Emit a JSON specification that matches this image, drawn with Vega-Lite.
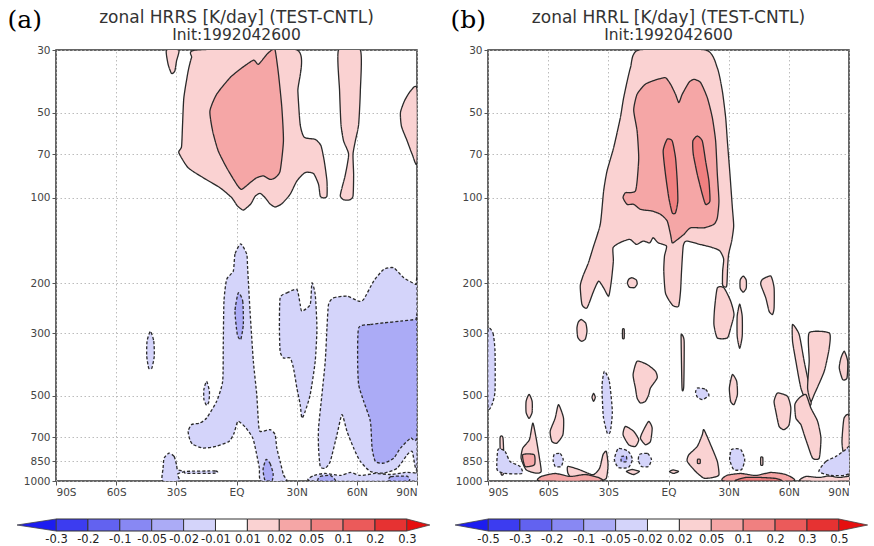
{
"$schema":"https://vega.github.io/schema/vega-lite/v6.json",
"background":"white",
"padding":{"left":6,"top":6,"right":4,"bottom":4},
"config":{
 "view":{"stroke":"#333","strokeWidth":1.5},
 "axis":{"labelFont":"DejaVu Sans","labelFontSize":10.5,"labelColor":"#444","tickColor":"#555","tickSize":4,"domain":false,"gridColor":"#b4b4b4","gridDash":[1.5,2.5],"gridWidth":0.9,"labelPadding":2},
 "title":{"anchor":"middle","font":"DejaVu Sans","fontSize":17,"fontWeight":"normal","color":"#333","subtitleFont":"DejaVu Sans","subtitleFontSize":15.5,"subtitleColor":"#333","subtitlePadding":1,"offset":-37}
},
"datasets":{
"pa":[
{"s":"A1","v":0.015,"lat":-34.9,"p":30},{"s":"A1","v":0.015,"lat":-34.1,"p":33.7},{"s":"A1","v":0.015,"lat":-32.4,"p":36.3},{"s":"A1","v":0.015,"lat":-30.75,"p":35.6},{"s":"A1","v":0.015,"lat":-29.9,"p":32.8},{"s":"A1","v":0.015,"lat":-28.75,"p":30},
{"s":"A2","v":0.015,"lat":-19.9,"p":30},{"s":"A2","v":0.015,"lat":30.1,"p":30},{"s":"A2","v":0.015,"lat":30.6,"p":41.9},{"s":"A2","v":0.015,"lat":31.75,"p":55},{"s":"A2","v":0.015,"lat":33.75,"p":61},{"s":"A2","v":0.015,"lat":39.25,"p":62.1},{"s":"A2","v":0.015,"lat":42.1,"p":65.3},{"s":"A2","v":0.015,"lat":43.75,"p":74},{"s":"A2","v":0.015,"lat":45.1,"p":87.1},{"s":"A2","v":0.015,"lat":45.1,"p":98.4},{"s":"A2","v":0.015,"lat":43.4,"p":100},{"s":"A2","v":0.015,"lat":41.75,"p":98.4},{"s":"A2","v":0.015,"lat":40.9,"p":89.5},{"s":"A2","v":0.015,"lat":38.4,"p":82},{"s":"A2","v":0.015,"lat":34.25,"p":81.3},{"s":"A2","v":0.015,"lat":30.1,"p":87.1},{"s":"A2","v":0.015,"lat":26.75,"p":97},{"s":"A2","v":0.015,"lat":22.6,"p":104.8},{"s":"A2","v":0.015,"lat":19.25,"p":107.6},{"s":"A2","v":0.015,"lat":16.75,"p":105},{"s":"A2","v":0.015,"lat":14.25,"p":99.7},{"s":"A2","v":0.015,"lat":11.75,"p":96.3},{"s":"A2","v":0.015,"lat":9.25,"p":98.7},{"s":"A2","v":0.015,"lat":7.1,"p":105},{"s":"A2","v":0.015,"lat":3.4,"p":110.3},{"s":"A2","v":0.015,"lat":0.4,"p":106.5},{"s":"A2","v":0.015,"lat":-2.4,"p":99.7},{"s":"A2","v":0.015,"lat":-8.25,"p":92},{"s":"A2","v":0.015,"lat":-16.6,"p":84.8},{"s":"A2","v":0.015,"lat":-24.1,"p":78.2},{"s":"A2","v":0.015,"lat":-28.75,"p":69.2},{"s":"A2","v":0.015,"lat":-27.4,"p":65.8},{"s":"A2","v":0.015,"lat":-26.9,"p":55},{"s":"A2","v":0.015,"lat":-26.25,"p":44.2},{"s":"A2","v":0.015,"lat":-24.1,"p":35.6},{"s":"A2","v":0.015,"lat":-22.4,"p":31.9},
{"s":"A3","v":0.015,"lat":50.9,"p":30},{"s":"A3","v":0.015,"lat":51.4,"p":41.9},{"s":"A3","v":0.015,"lat":52.1,"p":55},{"s":"A3","v":0.015,"lat":53.4,"p":62.9},{"s":"A3","v":0.015,"lat":55.9,"p":70.1},{"s":"A3","v":0.015,"lat":54.25,"p":82.9},{"s":"A3","v":0.015,"lat":52.6,"p":92},{"s":"A3","v":0.015,"lat":51.75,"p":98.4},{"s":"A3","v":0.015,"lat":53.4,"p":101.5},{"s":"A3","v":0.015,"lat":56.4,"p":101.5},{"s":"A3","v":0.015,"lat":58.1,"p":98.4},{"s":"A3","v":0.015,"lat":58.4,"p":82.9},{"s":"A3","v":0.015,"lat":58.1,"p":70.1},{"s":"A3","v":0.015,"lat":59.25,"p":62.9},{"s":"A3","v":0.015,"lat":60.9,"p":55},{"s":"A3","v":0.015,"lat":61.75,"p":41.9},{"s":"A3","v":0.015,"lat":61.75,"p":30},
{"s":"A4","v":0.015,"lat":90,"p":41.3},{"s":"A4","v":0.015,"lat":86.75,"p":41.9},{"s":"A4","v":0.015,"lat":83.75,"p":45.4},{"s":"A4","v":0.015,"lat":81.75,"p":49.9},{"s":"A4","v":0.015,"lat":82.25,"p":55.8},{"s":"A4","v":0.015,"lat":85.1,"p":62.9},{"s":"A4","v":0.015,"lat":87.6,"p":70.1},{"s":"A4","v":0.015,"lat":90,"p":75},
{"s":"A5","v":0.015,"lat":65,"p":1000},{"s":"A5","v":0.015,"lat":65.5,"p":962},{"s":"A5","v":0.015,"lat":69.5,"p":958},{"s":"A5","v":0.015,"lat":70,"p":1000},
{"s":"A6","v":0.035,"lat":-13.25,"p":49.3},{"s":"A6","v":0.035,"lat":-9.9,"p":43},{"s":"A6","v":0.035,"lat":-3.25,"p":37.6},{"s":"A6","v":0.035,"lat":1.75,"p":35.1},{"s":"A6","v":0.035,"lat":8.4,"p":32.6},{"s":"A6","v":0.035,"lat":10.9,"p":33.7},{"s":"A6","v":0.035,"lat":15.1,"p":31.1},{"s":"A6","v":0.035,"lat":17.6,"p":30},{"s":"A6","v":0.035,"lat":19.25,"p":30},{"s":"A6","v":0.035,"lat":20.9,"p":36.3},{"s":"A6","v":0.035,"lat":22.6,"p":47.9},{"s":"A6","v":0.035,"lat":23.4,"p":62.9},{"s":"A6","v":0.035,"lat":21.75,"p":80.3},{"s":"A6","v":0.035,"lat":19.25,"p":84.8},{"s":"A6","v":0.035,"lat":16.75,"p":86},{"s":"A6","v":0.035,"lat":13.4,"p":83.6},{"s":"A6","v":0.035,"lat":10.1,"p":84.8},{"s":"A6","v":0.035,"lat":6.75,"p":88.3},{"s":"A6","v":0.035,"lat":2.6,"p":93.2},{"s":"A6","v":0.035,"lat":0.1,"p":89.5},{"s":"A6","v":0.035,"lat":-4.9,"p":78.2},{"s":"A6","v":0.035,"lat":-9.1,"p":68.2},{"s":"A6","v":0.035,"lat":-11.9,"p":58},
{"s":"B1","v":-0.015,"lat":2.1,"p":145.2},{"s":"B1","v":-0.015,"lat":-0.75,"p":157.8},{"s":"B1","v":-0.015,"lat":-1.6,"p":181.3},{"s":"B1","v":-0.015,"lat":-4.9,"p":193.9},{"s":"B1","v":-0.015,"lat":-6.25,"p":231.5},{"s":"B1","v":-0.015,"lat":-6.6,"p":328.7},{"s":"B1","v":-0.015,"lat":-6.9,"p":444.3},{"s":"B1","v":-0.015,"lat":-9.9,"p":522.9},{"s":"B1","v":-0.015,"lat":-14.9,"p":599},{"s":"B1","v":-0.015,"lat":-18.25,"p":624},{"s":"B1","v":-0.015,"lat":-22.4,"p":632},{"s":"B1","v":-0.015,"lat":-24.1,"p":667.8},{"s":"B1","v":-0.015,"lat":-23.25,"p":714.5},{"s":"B1","v":-0.015,"lat":-21.75,"p":742.5},{"s":"B1","v":-0.015,"lat":-16.75,"p":765},{"s":"B1","v":-0.015,"lat":-10.25,"p":754.7},{"s":"B1","v":-0.015,"lat":-3.75,"p":724.6},{"s":"B1","v":-0.015,"lat":-1.25,"p":678.8},{"s":"B1","v":-0.015,"lat":0.75,"p":615.5},{"s":"B1","v":-0.015,"lat":4.75,"p":650},{"s":"B1","v":-0.015,"lat":8.1,"p":705.3},{"s":"B1","v":-0.015,"lat":9.75,"p":786.1},{"s":"B1","v":-0.015,"lat":11.4,"p":900.8},{"s":"B1","v":-0.015,"lat":12.25,"p":1000},{"s":"B1","v":-0.015,"lat":24.75,"p":1000},{"s":"B1","v":-0.015,"lat":23.4,"p":950.5},{"s":"B1","v":-0.015,"lat":21.75,"p":852.9},{"s":"B1","v":-0.015,"lat":20.1,"p":765},{"s":"B1","v":-0.015,"lat":19.25,"p":686},{"s":"B1","v":-0.015,"lat":16.75,"p":658.7},{"s":"B1","v":-0.015,"lat":11.75,"p":667.8},{"s":"B1","v":-0.015,"lat":10.9,"p":615.5},{"s":"B1","v":-0.015,"lat":10.1,"p":495},{"s":"B1","v":-0.015,"lat":8.4,"p":377.5},{"s":"B1","v":-0.015,"lat":6.75,"p":251.2},{"s":"B1","v":-0.015,"lat":5.9,"p":196.7},{"s":"B1","v":-0.015,"lat":5.5,"p":174.1},{"s":"B1","v":-0.015,"lat":5.1,"p":157.8},
{"s":"B2","v":-0.015,"lat":21.75,"p":225.4},{"s":"B2","v":-0.015,"lat":25.1,"p":216.4},{"s":"B2","v":-0.015,"lat":30.1,"p":210.5},{"s":"B2","v":-0.015,"lat":31.75,"p":237.8},{"s":"B2","v":-0.015,"lat":32.6,"p":251.2},{"s":"B2","v":-0.015,"lat":36.75,"p":237.8},{"s":"B2","v":-0.015,"lat":37.6,"p":199.5},{"s":"B2","v":-0.015,"lat":39.25,"p":219.2},{"s":"B2","v":-0.015,"lat":40.1,"p":287.8},{"s":"B2","v":-0.015,"lat":39.25,"p":377.5},{"s":"B2","v":-0.015,"lat":36.75,"p":495},{"s":"B2","v":-0.015,"lat":34.25,"p":567.4},{"s":"B2","v":-0.015,"lat":32.6,"p":599.3},{"s":"B2","v":-0.015,"lat":31.75,"p":537},{"s":"B2","v":-0.015,"lat":30.1,"p":469.3},{"s":"B2","v":-0.015,"lat":28.4,"p":398.7},{"s":"B2","v":-0.015,"lat":26.75,"p":367.5},{"s":"B2","v":-0.015,"lat":23.4,"p":367.5},{"s":"B2","v":-0.015,"lat":21.75,"p":347.9},{"s":"B2","v":-0.015,"lat":21.4,"p":287.8},
{"s":"B3","v":-0.015,"lat":45.9,"p":237.8},{"s":"B3","v":-0.015,"lat":48.4,"p":225.4},{"s":"B3","v":-0.015,"lat":55.1,"p":222.3},{"s":"B3","v":-0.015,"lat":60.9,"p":231.5},{"s":"B3","v":-0.015,"lat":63.4,"p":228.3},{"s":"B3","v":-0.015,"lat":68.4,"p":196.7},{"s":"B3","v":-0.015,"lat":73.4,"p":178.8},{"s":"B3","v":-0.015,"lat":78.4,"p":176.5},{"s":"B3","v":-0.015,"lat":83.4,"p":191.4},{"s":"B3","v":-0.015,"lat":89.25,"p":202},{"s":"B3","v":-0.015,"lat":90,"p":202},{"s":"B3","v":-0.015,"lat":90,"p":876},{"s":"B3","v":-0.015,"lat":87.6,"p":786.1},{"s":"B3","v":-0.015,"lat":85.1,"p":807.4},{"s":"B3","v":-0.015,"lat":80.1,"p":900.8},{"s":"B3","v":-0.015,"lat":73.4,"p":938.2},{"s":"B3","v":-0.015,"lat":66.75,"p":925.3},{"s":"B3","v":-0.015,"lat":61.75,"p":852.9},{"s":"B3","v":-0.015,"lat":58.4,"p":765},{"s":"B3","v":-0.015,"lat":55.1,"p":667.8},{"s":"B3","v":-0.015,"lat":52.6,"p":582.8},{"s":"B3","v":-0.015,"lat":50.1,"p":685.9},{"s":"B3","v":-0.015,"lat":46.75,"p":852.9},{"s":"B3","v":-0.015,"lat":44.25,"p":900.8},{"s":"B3","v":-0.015,"lat":41.75,"p":888.4},{"s":"B3","v":-0.015,"lat":40.9,"p":765},{"s":"B3","v":-0.015,"lat":40.9,"p":650.2},{"s":"B3","v":-0.015,"lat":42.6,"p":495},{"s":"B3","v":-0.015,"lat":44.25,"p":377.5},{"s":"B3","v":-0.015,"lat":45.1,"p":287.8},
{"s":"B4","v":-0.015,"lat":-42.9,"p":295.6},{"s":"B4","v":-0.015,"lat":-41.25,"p":320.7},{"s":"B4","v":-0.015,"lat":-41,"p":362.4},{"s":"B4","v":-0.015,"lat":-42.25,"p":399.7},{"s":"B4","v":-0.015,"lat":-43.75,"p":399.7},{"s":"B4","v":-0.015,"lat":-44.75,"p":362.4},{"s":"B4","v":-0.015,"lat":-44.6,"p":320.7},
{"s":"B5","v":-0.015,"lat":-14.9,"p":444.3},{"s":"B5","v":-0.015,"lat":-13.5,"p":482},{"s":"B5","v":-0.015,"lat":-13.75,"p":522.9},{"s":"B5","v":-0.015,"lat":-14.9,"p":540.2},{"s":"B5","v":-0.015,"lat":-16.25,"p":514.7},{"s":"B5","v":-0.015,"lat":-16.25,"p":474.4},
{"s":"B6","v":-0.015,"lat":-33.6,"p":797.2},{"s":"B6","v":-0.015,"lat":-31.1,"p":818.8},{"s":"B6","v":-0.015,"lat":-29.9,"p":876},{"s":"B6","v":-0.015,"lat":-29.4,"p":912.4},{"s":"B6","v":-0.015,"lat":-26.1,"p":925.3},{"s":"B6","v":-0.015,"lat":-29.4,"p":945.9},{"s":"B6","v":-0.015,"lat":-28.6,"p":1000},{"s":"B6","v":-0.015,"lat":-36.9,"p":1000},{"s":"B6","v":-0.015,"lat":-36.6,"p":900.8},{"s":"B6","v":-0.015,"lat":-36.1,"p":830.2},
{"s":"B7","v":-0.015,"lat":-25,"p":925},{"s":"B7","v":-0.015,"lat":-10.5,"p":922},{"s":"B7","v":-0.015,"lat":-10.5,"p":938},{"s":"B7","v":-0.015,"lat":-25,"p":940},
{"s":"B8","v":-0.015,"lat":37.75,"p":1000},{"s":"B8","v":-0.015,"lat":38.75,"p":956},{"s":"B8","v":-0.015,"lat":44.25,"p":940.6},{"s":"B8","v":-0.015,"lat":51.75,"p":956},{"s":"B8","v":-0.015,"lat":56.75,"p":932.9},{"s":"B8","v":-0.015,"lat":61.75,"p":956},{"s":"B8","v":-0.015,"lat":69.25,"p":940.6},{"s":"B8","v":-0.015,"lat":76.75,"p":948.6},{"s":"B8","v":-0.015,"lat":84.25,"p":932.9},{"s":"B8","v":-0.015,"lat":90,"p":940.6},{"s":"B8","v":-0.015,"lat":90,"p":1000},
{"s":"C1","v":-0.035,"lat":0.9,"p":216.4},{"s":"C1","v":-0.035,"lat":3.1,"p":231.5},{"s":"C1","v":-0.035,"lat":3.4,"p":279.9},{"s":"C1","v":-0.035,"lat":2.1,"p":316.2},{"s":"C1","v":-0.035,"lat":0.4,"p":303.6},{"s":"C1","v":-0.035,"lat":-0.75,"p":251.2},
{"s":"C2","v":-0.035,"lat":14.75,"p":839},{"s":"C2","v":-0.035,"lat":16.75,"p":867},{"s":"C2","v":-0.035,"lat":18.25,"p":940.6},{"s":"C2","v":-0.035,"lat":17.75,"p":995},{"s":"C2","v":-0.035,"lat":14.25,"p":995},{"s":"C2","v":-0.035,"lat":13.25,"p":910},
{"s":"C3","v":-0.035,"lat":60.9,"p":287.8},{"s":"C3","v":-0.035,"lat":66.75,"p":279.9},{"s":"C3","v":-0.035,"lat":73.4,"p":276.3},{"s":"C3","v":-0.035,"lat":81.75,"p":272.5},{"s":"C3","v":-0.035,"lat":89.25,"p":268.7},{"s":"C3","v":-0.035,"lat":90,"p":268},{"s":"C3","v":-0.035,"lat":90,"p":685.9},{"s":"C3","v":-0.035,"lat":86.75,"p":705.3},{"s":"C3","v":-0.035,"lat":81.75,"p":765},{"s":"C3","v":-0.035,"lat":78.4,"p":830.2},{"s":"C3","v":-0.035,"lat":73.4,"p":864.8},{"s":"C3","v":-0.035,"lat":69.25,"p":852.9},{"s":"C3","v":-0.035,"lat":67.6,"p":765},{"s":"C3","v":-0.035,"lat":66.75,"p":615.5},{"s":"C3","v":-0.035,"lat":63.4,"p":522.9},{"s":"C3","v":-0.035,"lat":60.9,"p":456.3},{"s":"C3","v":-0.035,"lat":60.4,"p":377.5},
{"s":"C4","v":-0.035,"lat":40.75,"p":1000},{"s":"C4","v":-0.035,"lat":41.75,"p":963.8},{"s":"C4","v":-0.035,"lat":46.75,"p":956},{"s":"C4","v":-0.035,"lat":49.25,"p":1000},
{"s":"C5","v":-0.035,"lat":76,"p":1000},{"s":"C5","v":-0.035,"lat":77,"p":965},{"s":"C5","v":-0.035,"lat":85,"p":962},{"s":"C5","v":-0.035,"lat":86,"p":1000}
],
"pb":[
{"s":"C1","v":0.035,"lat":-14.85,"p":30},{"s":"C1","v":0.035,"lat":18.5,"p":30},{"s":"C1","v":0.035,"lat":24.35,"p":34.7},{"s":"C1","v":0.035,"lat":26.85,"p":41.9},{"s":"C1","v":0.035,"lat":28.5,"p":52},{"s":"C1","v":0.035,"lat":29.35,"p":62.9},{"s":"C1","v":0.035,"lat":30.65,"p":82.5},{"s":"C1","v":0.035,"lat":31.85,"p":108.3},{"s":"C1","v":0.035,"lat":32.5,"p":125.7},{"s":"C1","v":0.035,"lat":31.5,"p":142},{"s":"C1","v":0.035,"lat":30,"p":157.8},{"s":"C1","v":0.035,"lat":29.5,"p":174.1},{"s":"C1","v":0.035,"lat":29,"p":204.9},{"s":"C1","v":0.035,"lat":27,"p":203.2},{"s":"C1","v":0.035,"lat":27,"p":181.3},{"s":"C1","v":0.035,"lat":27.5,"p":164.4},{"s":"C1","v":0.035,"lat":25.65,"p":154},{"s":"C1","v":0.035,"lat":22.35,"p":150},{"s":"C1","v":0.035,"lat":15.65,"p":145.9},{"s":"C1","v":0.035,"lat":9,"p":142},{"s":"C1","v":0.035,"lat":7.35,"p":147.9},{"s":"C1","v":0.035,"lat":6.5,"p":181.3},{"s":"C1","v":0.035,"lat":6,"p":213.4},{"s":"C1","v":0.035,"lat":5,"p":241.2},{"s":"C1","v":0.035,"lat":2,"p":239.2},{"s":"C1","v":0.035,"lat":-1.5,"p":216.9},{"s":"C1","v":0.035,"lat":-2.35,"p":181.3},{"s":"C1","v":0.035,"lat":-2,"p":160.4},{"s":"C1","v":0.035,"lat":-1,"p":147.9},{"s":"C1","v":0.035,"lat":-5.15,"p":144},{"s":"C1","v":0.035,"lat":-7.65,"p":138.2},{"s":"C1","v":0.035,"lat":-9.35,"p":144},{"s":"C1","v":0.035,"lat":-12.65,"p":142},{"s":"C1","v":0.035,"lat":-16,"p":145.9},{"s":"C1","v":0.035,"lat":-19.35,"p":140},{"s":"C1","v":0.035,"lat":-24.35,"p":144},{"s":"C1","v":0.035,"lat":-27.65,"p":150},{"s":"C1","v":0.035,"lat":-27.5,"p":167.1},{"s":"C1","v":0.035,"lat":-28.5,"p":196.7},{"s":"C1","v":0.035,"lat":-29.85,"p":222.3},{"s":"C1","v":0.035,"lat":-32.35,"p":207.8},{"s":"C1","v":0.035,"lat":-34.85,"p":196.7},{"s":"C1","v":0.035,"lat":-37.35,"p":213.4},{"s":"C1","v":0.035,"lat":-40.65,"p":244.6},{"s":"C1","v":0.035,"lat":-43.15,"p":237.8},{"s":"C1","v":0.035,"lat":-44,"p":204.9},{"s":"C1","v":0.035,"lat":-42.65,"p":188.8},{"s":"C1","v":0.035,"lat":-40,"p":169.9},{"s":"C1","v":0.035,"lat":-37.5,"p":149.1},{"s":"C1","v":0.035,"lat":-34,"p":123.6},{"s":"C1","v":0.035,"lat":-32.35,"p":94.5},{"s":"C1","v":0.035,"lat":-30.65,"p":80.3},{"s":"C1","v":0.035,"lat":-27.35,"p":66.4},{"s":"C1","v":0.035,"lat":-24,"p":52},{"s":"C1","v":0.035,"lat":-22.35,"p":44.2},{"s":"C1","v":0.035,"lat":-19,"p":34.7},
{"s":"C2","v":0.075,"lat":-17.35,"p":48.9},{"s":"C2","v":0.075,"lat":-15.65,"p":43},{"s":"C2","v":0.075,"lat":-11.5,"p":39.6},{"s":"C2","v":0.075,"lat":-5.65,"p":38.1},{"s":"C2","v":0.075,"lat":-1.5,"p":37.6},{"s":"C2","v":0.075,"lat":1,"p":39.6},{"s":"C2","v":0.075,"lat":3.5,"p":43},{"s":"C2","v":0.075,"lat":5.15,"p":46},{"s":"C2","v":0.075,"lat":6.85,"p":43},{"s":"C2","v":0.075,"lat":10.15,"p":39.1},{"s":"C2","v":0.075,"lat":12.65,"p":38.1},{"s":"C2","v":0.075,"lat":16,"p":39.1},{"s":"C2","v":0.075,"lat":19.35,"p":44.2},{"s":"C2","v":0.075,"lat":21.85,"p":52},{"s":"C2","v":0.075,"lat":23.5,"p":62.9},{"s":"C2","v":0.075,"lat":24.35,"p":82.5},{"s":"C2","v":0.075,"lat":25.15,"p":102.5},{"s":"C2","v":0.075,"lat":24.35,"p":117.5},{"s":"C2","v":0.075,"lat":22.65,"p":123.9},{"s":"C2","v":0.075,"lat":17.65,"p":127.5},{"s":"C2","v":0.075,"lat":11,"p":127.5},{"s":"C2","v":0.075,"lat":7.65,"p":134.5},{"s":"C2","v":0.075,"lat":3.5,"p":142},{"s":"C2","v":0.075,"lat":1.85,"p":144},{"s":"C2","v":0.075,"lat":1,"p":134.5},{"s":"C2","v":0.075,"lat":-0.65,"p":120.6},{"s":"C2","v":0.075,"lat":-4,"p":114.2},{"s":"C2","v":0.075,"lat":-8.15,"p":111.2},{"s":"C2","v":0.075,"lat":-14,"p":109.7},{"s":"C2","v":0.075,"lat":-17.35,"p":105.3},{"s":"C2","v":0.075,"lat":-20.65,"p":105.3},{"s":"C2","v":0.075,"lat":-22.65,"p":99.8},{"s":"C2","v":0.075,"lat":-21.5,"p":95.8},{"s":"C2","v":0.075,"lat":-19,"p":95.8},{"s":"C2","v":0.075,"lat":-16.5,"p":94.5},{"s":"C2","v":0.075,"lat":-15.65,"p":87.1},{"s":"C2","v":0.075,"lat":-14.85,"p":72.1},{"s":"C2","v":0.075,"lat":-15.65,"p":58},
{"s":"C3","v":0.15,"lat":-0.65,"p":62},{"s":"C3","v":0.15,"lat":1.85,"p":62.9},{"s":"C3","v":0.15,"lat":3.5,"p":72.1},{"s":"C3","v":0.15,"lat":4.35,"p":87.1},{"s":"C3","v":0.15,"lat":4.65,"p":102.5},{"s":"C3","v":0.15,"lat":3.5,"p":112.8},{"s":"C3","v":0.15,"lat":1.85,"p":112.8},{"s":"C3","v":0.15,"lat":0.15,"p":99.8},{"s":"C3","v":0.15,"lat":-1.5,"p":82.5},{"s":"C3","v":0.15,"lat":-2.65,"p":68.2},
{"s":"C4","v":0.15,"lat":14.35,"p":60.4},{"s":"C4","v":0.15,"lat":16.85,"p":62.9},{"s":"C4","v":0.15,"lat":18.5,"p":74},{"s":"C4","v":0.15,"lat":20.15,"p":87.1},{"s":"C4","v":0.15,"lat":20.65,"p":102.5},{"s":"C4","v":0.15,"lat":18.5,"p":105.3},{"s":"C4","v":0.15,"lat":16.85,"p":97},{"s":"C4","v":0.15,"lat":14.35,"p":82.5},{"s":"C4","v":0.15,"lat":12.35,"p":70},{"s":"C4","v":0.15,"lat":12.15,"p":62.9},
{"s":"P01","v":0.035,"lat":-18.15,"p":191.4},{"s":"P01","v":0.035,"lat":-16,"p":195},{"s":"P01","v":0.035,"lat":-15.65,"p":201.6},{"s":"P01","v":0.035,"lat":-17,"p":207.4},{"s":"P01","v":0.035,"lat":-19.5,"p":206.6},{"s":"P01","v":0.035,"lat":-20.5,"p":199.9},{"s":"P01","v":0.035,"lat":-19.75,"p":193.4},
{"s":"P02","v":0.035,"lat":-43.5,"p":268.7},{"s":"P02","v":0.035,"lat":-41.25,"p":277},{"s":"P02","v":0.035,"lat":-40.65,"p":295.6},{"s":"P02","v":0.035,"lat":-41.5,"p":315.5},{"s":"P02","v":0.035,"lat":-43.5,"p":320.7},{"s":"P02","v":0.035,"lat":-45.25,"p":310.4},{"s":"P02","v":0.035,"lat":-45.65,"p":288.5},{"s":"P02","v":0.035,"lat":-45,"p":274.7},
{"s":"P03","v":0.035,"lat":-15.65,"p":377.5},{"s":"P03","v":0.035,"lat":-10.65,"p":387.7},{"s":"P03","v":0.035,"lat":-6.5,"p":409.5},{"s":"P03","v":0.035,"lat":-5.65,"p":432.6},{"s":"P03","v":0.035,"lat":-9,"p":469.3},{"s":"P03","v":0.035,"lat":-9.85,"p":495},{"s":"P03","v":0.035,"lat":-11.5,"p":522.9},{"s":"P03","v":0.035,"lat":-14,"p":530.2},{"s":"P03","v":0.035,"lat":-15.65,"p":509.1},{"s":"P03","v":0.035,"lat":-16.5,"p":469.3},{"s":"P03","v":0.035,"lat":-17.65,"p":420.6},
{"s":"P04","v":0.035,"lat":24.35,"p":207.8},{"s":"P04","v":0.035,"lat":27.65,"p":207.8},{"s":"P04","v":0.035,"lat":31,"p":231.5},{"s":"P04","v":0.035,"lat":32.65,"p":258},{"s":"P04","v":0.035,"lat":31,"p":287.8},{"s":"P04","v":0.035,"lat":29.35,"p":312.2},{"s":"P04","v":0.035,"lat":24.35,"p":312.2},{"s":"P04","v":0.035,"lat":22.65,"p":279.9},{"s":"P04","v":0.035,"lat":23,"p":244.6},
{"s":"P05","v":0.035,"lat":35.5,"p":237.2},{"s":"P05","v":0.035,"lat":36.75,"p":261.6},{"s":"P05","v":0.035,"lat":36.75,"p":307.9},{"s":"P05","v":0.035,"lat":35.5,"p":339.6},{"s":"P05","v":0.035,"lat":34.25,"p":307.9},{"s":"P05","v":0.035,"lat":34.25,"p":261.6},
{"s":"P06","v":0.035,"lat":37.25,"p":188.8},{"s":"P06","v":0.035,"lat":38.75,"p":195},{"s":"P06","v":0.035,"lat":38.75,"p":208.3},{"s":"P06","v":0.035,"lat":37.25,"p":215.1},{"s":"P06","v":0.035,"lat":35.75,"p":208.3},{"s":"P06","v":0.035,"lat":35.75,"p":195},
{"s":"P07","v":0.035,"lat":46.85,"p":193.9},{"s":"P07","v":0.035,"lat":51,"p":188.8},{"s":"P07","v":0.035,"lat":52.65,"p":207.8},{"s":"P07","v":0.035,"lat":52.65,"p":244.6},{"s":"P07","v":0.035,"lat":51.85,"p":258},{"s":"P07","v":0.035,"lat":50.15,"p":251.2},{"s":"P07","v":0.035,"lat":48.5,"p":225.4},{"s":"P07","v":0.035,"lat":46,"p":202},
{"s":"P08","v":0.035,"lat":61.85,"p":279.9},{"s":"P08","v":0.035,"lat":65.15,"p":303.6},{"s":"P08","v":0.035,"lat":67.65,"p":377.5},{"s":"P08","v":0.035,"lat":71,"p":495},{"s":"P08","v":0.035,"lat":71,"p":537},{"s":"P08","v":0.035,"lat":69.35,"p":537},{"s":"P08","v":0.035,"lat":66,"p":469.3},{"s":"P08","v":0.035,"lat":63.5,"p":377.5},{"s":"P08","v":0.035,"lat":61.85,"p":320.7},
{"s":"P09","v":0.035,"lat":70.15,"p":299.7},{"s":"P09","v":0.035,"lat":80.15,"p":299.7},{"s":"P09","v":0.035,"lat":80.15,"p":338.8},{"s":"P09","v":0.035,"lat":77.65,"p":409.5},{"s":"P09","v":0.035,"lat":72.65,"p":495},{"s":"P09","v":0.035,"lat":71,"p":522.9},{"s":"P09","v":0.035,"lat":69.35,"p":469.3},{"s":"P09","v":0.035,"lat":70.15,"p":377.5},
{"s":"P10","v":0.035,"lat":87.65,"p":347.9},{"s":"P10","v":0.035,"lat":89.35,"p":377.5},{"s":"P10","v":0.035,"lat":89,"p":432.6},{"s":"P10","v":0.035,"lat":86.85,"p":438.2},{"s":"P10","v":0.035,"lat":85.15,"p":398.7},{"s":"P10","v":0.035,"lat":86,"p":367.5},
{"s":"P11","v":0.035,"lat":65.15,"p":509.1},{"s":"P11","v":0.035,"lat":68.5,"p":495},{"s":"P11","v":0.035,"lat":71,"p":552.3},{"s":"P11","v":0.035,"lat":74.35,"p":615.5},{"s":"P11","v":0.035,"lat":76,"p":705.3},{"s":"P11","v":0.035,"lat":75.15,"p":830.2},{"s":"P11","v":0.035,"lat":71.85,"p":830.2},{"s":"P11","v":0.035,"lat":69.35,"p":744.3},{"s":"P11","v":0.035,"lat":67.65,"p":685.9},{"s":"P11","v":0.035,"lat":66,"p":632.2},{"s":"P11","v":0.035,"lat":63.5,"p":599.3},{"s":"P11","v":0.035,"lat":63,"p":537},
{"s":"P12","v":0.035,"lat":54.35,"p":488.8},{"s":"P12","v":0.035,"lat":59.35,"p":502.1},{"s":"P12","v":0.035,"lat":61,"p":552.3},{"s":"P12","v":0.035,"lat":60.15,"p":632.2},{"s":"P12","v":0.035,"lat":57.65,"p":658.7},{"s":"P12","v":0.035,"lat":55.15,"p":641.2},{"s":"P12","v":0.035,"lat":53.5,"p":567.4},{"s":"P12","v":0.035,"lat":52.65,"p":522.9},
{"s":"P13","v":0.035,"lat":31.85,"p":420.6},{"s":"P13","v":0.035,"lat":34,"p":444.3},{"s":"P13","v":0.035,"lat":34.35,"p":495},{"s":"P13","v":0.035,"lat":32.65,"p":537},{"s":"P13","v":0.035,"lat":31,"p":522.9},{"s":"P13","v":0.035,"lat":30.35,"p":469.3},
{"s":"P14","v":0.035,"lat":87.5,"p":601},{"s":"P14","v":0.035,"lat":90,"p":591},{"s":"P14","v":0.035,"lat":90,"p":853},{"s":"P14","v":0.035,"lat":87.5,"p":819},{"s":"P14","v":0.035,"lat":86.5,"p":725},
{"s":"P15","v":0.035,"lat":6.4,"p":302.9},{"s":"P15","v":0.035,"lat":7.8,"p":320.7},{"s":"P15","v":0.035,"lat":7.6,"p":462.8},{"s":"P15","v":0.035,"lat":6.75,"p":470.4},{"s":"P15","v":0.035,"lat":6.3,"p":320.7},
{"s":"P16","v":0.035,"lat":-22.9,"p":291},{"s":"P16","v":0.035,"lat":-22.1,"p":291},{"s":"P16","v":0.035,"lat":-22.1,"p":313},{"s":"P16","v":0.035,"lat":-22.9,"p":313},
{"s":"P17","v":0.035,"lat":-37.35,"p":490},{"s":"P17","v":0.035,"lat":-36.5,"p":506.2},{"s":"P17","v":0.035,"lat":-37.35,"p":522.9},{"s":"P17","v":0.035,"lat":-38.15,"p":506.2},
{"s":"P18","v":0.035,"lat":-54.85,"p":537},{"s":"P18","v":0.035,"lat":-52.35,"p":599.3},{"s":"P18","v":0.035,"lat":-52.65,"p":685.9},{"s":"P18","v":0.035,"lat":-55.65,"p":734.7},{"s":"P18","v":0.035,"lat":-58.15,"p":724.6},{"s":"P18","v":0.035,"lat":-59,"p":667.8},{"s":"P18","v":0.035,"lat":-56.5,"p":599.3},
{"s":"P19","v":0.035,"lat":-69.5,"p":494},{"s":"P19","v":0.035,"lat":-68,"p":522.9},{"s":"P19","v":0.035,"lat":-68,"p":572},{"s":"P19","v":0.035,"lat":-69.5,"p":600.8},{"s":"P19","v":0.035,"lat":-71,"p":572},{"s":"P19","v":0.035,"lat":-71,"p":522.9},
{"s":"P20","v":0.035,"lat":-21.5,"p":641.2},{"s":"P20","v":0.035,"lat":-17.35,"p":667.8},{"s":"P20","v":0.035,"lat":-14.85,"p":714.5},{"s":"P20","v":0.035,"lat":-16.5,"p":754.7},{"s":"P20","v":0.035,"lat":-19.85,"p":744.3},{"s":"P20","v":0.035,"lat":-22.65,"p":685.9},
{"s":"P21","v":0.035,"lat":-9.85,"p":615.5},{"s":"P21","v":0.035,"lat":-8.15,"p":650.2},{"s":"P21","v":0.035,"lat":-9,"p":724.6},{"s":"P21","v":0.035,"lat":-11.5,"p":744.3},{"s":"P21","v":0.035,"lat":-14,"p":705.3},{"s":"P21","v":0.035,"lat":-12.35,"p":658.7},
{"s":"P22","v":0.035,"lat":17.65,"p":658.7},{"s":"P22","v":0.035,"lat":21,"p":744.3},{"s":"P22","v":0.035,"lat":24.35,"p":852.9},{"s":"P22","v":0.035,"lat":25.15,"p":950.5},{"s":"P22","v":0.035,"lat":22.65,"p":970},{"s":"P22","v":0.035,"lat":17.65,"p":977.3},{"s":"P22","v":0.035,"lat":13.5,"p":925.3},{"s":"P22","v":0.035,"lat":9.35,"p":852.9},{"s":"P22","v":0.035,"lat":10.15,"p":807.4},{"s":"P22","v":0.035,"lat":14.35,"p":754.7},{"s":"P22","v":0.035,"lat":16.85,"p":685.9},
{"s":"P23","v":0.035,"lat":-67.65,"p":624.1},{"s":"P23","v":0.035,"lat":-66,"p":705.3},{"s":"P23","v":0.035,"lat":-64.35,"p":830.2},{"s":"P23","v":0.035,"lat":-63.5,"p":925.3},{"s":"P23","v":0.035,"lat":-66,"p":938.2},{"s":"P23","v":0.035,"lat":-71,"p":912.4},{"s":"P23","v":0.035,"lat":-73.5,"p":830.2},{"s":"P23","v":0.035,"lat":-72.65,"p":765},{"s":"P23","v":0.035,"lat":-69.35,"p":714.5},
{"s":"P24","v":0.035,"lat":-50.15,"p":888.4},{"s":"P24","v":0.035,"lat":-44.35,"p":912.4},{"s":"P24","v":0.035,"lat":-37.65,"p":950.5},{"s":"P24","v":0.035,"lat":-34.35,"p":900.8},{"s":"P24","v":0.035,"lat":-32.65,"p":807.4},{"s":"P24","v":0.035,"lat":-31,"p":786.1},{"s":"P24","v":0.035,"lat":-30.15,"p":876},{"s":"P24","v":0.035,"lat":-31,"p":977.3},{"s":"P24","v":0.035,"lat":-34.35,"p":1000},{"s":"P24","v":0.035,"lat":-41,"p":1000},{"s":"P24","v":0.035,"lat":-47.65,"p":989.8},{"s":"P24","v":0.035,"lat":-50.15,"p":938.2},
{"s":"P25","v":0.035,"lat":-84,"p":707},{"s":"P25","v":0.035,"lat":-82.5,"p":707},{"s":"P25","v":0.035,"lat":-82,"p":925.3},{"s":"P25","v":0.035,"lat":-83.5,"p":940.6},
{"s":"P28","v":0.035,"lat":66,"p":1000},{"s":"P28","v":0.035,"lat":68.5,"p":963.8},{"s":"P28","v":0.035,"lat":75,"p":971.7},{"s":"P28","v":0.035,"lat":80,"p":960},{"s":"P28","v":0.035,"lat":85,"p":971.7},{"s":"P28","v":0.035,"lat":90,"p":963.8},{"s":"P28","v":0.035,"lat":90,"p":1000},
{"s":"P29","v":0.035,"lat":-21,"p":925.3},{"s":"P29","v":0.035,"lat":-18,"p":910.5},{"s":"P29","v":0.035,"lat":-14.5,"p":925.3},{"s":"P29","v":0.035,"lat":-17.5,"p":948.6},
{"s":"P30","v":0.035,"lat":0.5,"p":925.3},{"s":"P30","v":0.035,"lat":2.5,"p":914},{"s":"P30","v":0.035,"lat":5,"p":925.3},{"s":"P30","v":0.035,"lat":2.5,"p":940.6},
{"s":"P31","v":0.035,"lat":46,"p":826},{"s":"P31","v":0.035,"lat":47,"p":826},{"s":"P31","v":0.035,"lat":47,"p":877},{"s":"P31","v":0.035,"lat":46,"p":877},
{"s":"Q1","v":0.075,"lat":14.5,"p":839},{"s":"Q1","v":0.075,"lat":15.75,"p":839},{"s":"Q1","v":0.075,"lat":15.75,"p":866},{"s":"Q1","v":0.075,"lat":14.5,"p":866},
{"s":"Q2","v":0.075,"lat":-72.65,"p":807.4},{"s":"Q2","v":0.075,"lat":-67,"p":807.4},{"s":"Q2","v":0.075,"lat":-66.85,"p":876},{"s":"Q2","v":0.075,"lat":-71.5,"p":888.4},
{"s":"Q3","v":0.075,"lat":-64,"p":1000},{"s":"Q3","v":0.075,"lat":-63.5,"p":963.8},{"s":"Q3","v":0.075,"lat":-56.5,"p":940.6},{"s":"Q3","v":0.075,"lat":-49,"p":963.8},{"s":"Q3","v":0.075,"lat":-41.5,"p":948.6},{"s":"Q3","v":0.075,"lat":-35,"p":971.7},{"s":"Q3","v":0.075,"lat":-34,"p":1000},
{"s":"Q4","v":0.075,"lat":28,"p":1000},{"s":"Q4","v":0.075,"lat":29,"p":956},{"s":"Q4","v":0.075,"lat":36,"p":940.6},{"s":"Q4","v":0.075,"lat":43.5,"p":956},{"s":"Q4","v":0.075,"lat":51,"p":932.9},{"s":"Q4","v":0.075,"lat":58.5,"p":948.6},{"s":"Q4","v":0.075,"lat":62,"p":1000},
{"s":"R1","v":0.15,"lat":33.5,"p":1000},{"s":"R1","v":0.15,"lat":38.5,"p":971.7},{"s":"R1","v":0.15,"lat":46,"p":971.7},{"s":"R1","v":0.15,"lat":53.5,"p":979.7},{"s":"R1","v":0.15,"lat":56,"p":1000},
{"s":"N1","v":-0.035,"lat":-90,"p":295.6},{"s":"N1","v":-0.035,"lat":-87.5,"p":300.6},{"s":"N1","v":-0.035,"lat":-86.5,"p":347.9},{"s":"N1","v":-0.035,"lat":-86.5,"p":482},{"s":"N1","v":-0.035,"lat":-88,"p":537},{"s":"N1","v":-0.035,"lat":-90,"p":544.7},
{"s":"N2","v":-0.035,"lat":-32,"p":409.5},{"s":"N2","v":-0.035,"lat":-29.5,"p":444.3},{"s":"N2","v":-0.035,"lat":-28,"p":567.4},{"s":"N2","v":-0.035,"lat":-29,"p":667.8},{"s":"N2","v":-0.035,"lat":-30.5,"p":678.8},{"s":"N2","v":-0.035,"lat":-32.5,"p":591},{"s":"N2","v":-0.035,"lat":-33.15,"p":462.8},
{"s":"N3","v":-0.035,"lat":-85,"p":773.4},{"s":"N3","v":-0.035,"lat":-81.5,"p":786.1},{"s":"N3","v":-0.035,"lat":-79,"p":852.9},{"s":"N3","v":-0.035,"lat":-74,"p":888.4},{"s":"N3","v":-0.035,"lat":-73,"p":940.6},{"s":"N3","v":-0.035,"lat":-81.5,"p":940.6},{"s":"N3","v":-0.035,"lat":-85.5,"p":910.5},
{"s":"N4","v":-0.035,"lat":-57,"p":805.6},{"s":"N4","v":-0.035,"lat":-54,"p":799.2},{"s":"N4","v":-0.035,"lat":-52.5,"p":839.1},{"s":"N4","v":-0.035,"lat":-53.5,"p":888.4},{"s":"N4","v":-0.035,"lat":-56.5,"p":888.4},{"s":"N4","v":-0.035,"lat":-57.5,"p":845.9},
{"s":"N5","v":-0.035,"lat":-25,"p":767.2},{"s":"N5","v":-0.035,"lat":-20,"p":786.1},{"s":"N5","v":-0.035,"lat":-18,"p":839.1},{"s":"N5","v":-0.035,"lat":-20,"p":895.7},{"s":"N5","v":-0.035,"lat":-25,"p":895.7},{"s":"N5","v":-0.035,"lat":-27,"p":839.1},
{"s":"N6","v":-0.035,"lat":-14.5,"p":805.6},{"s":"N6","v":-0.035,"lat":-10.5,"p":799.2},{"s":"N6","v":-0.035,"lat":-8.5,"p":839.1},{"s":"N6","v":-0.035,"lat":-10,"p":888.4},{"s":"N6","v":-0.035,"lat":-13.5,"p":888.4},{"s":"N6","v":-0.035,"lat":-15,"p":845.9},
{"s":"N7","v":-0.035,"lat":31.5,"p":773.4},{"s":"N7","v":-0.035,"lat":36,"p":773.4},{"s":"N7","v":-0.035,"lat":38,"p":839.1},{"s":"N7","v":-0.035,"lat":36.5,"p":910.5},{"s":"N7","v":-0.035,"lat":32.5,"p":910.5},{"s":"N7","v":-0.035,"lat":30.5,"p":839.1},
{"s":"N8","v":-0.035,"lat":14.35,"p":469.3},{"s":"N8","v":-0.035,"lat":18.5,"p":474.4},{"s":"N8","v":-0.035,"lat":20.15,"p":498},{"s":"N8","v":-0.035,"lat":17,"p":515.9},{"s":"N8","v":-0.035,"lat":14.5,"p":506.2},{"s":"N8","v":-0.035,"lat":13.5,"p":486},
{"s":"N9","v":-0.035,"lat":75,"p":925.3},{"s":"N9","v":-0.035,"lat":78.5,"p":852.9},{"s":"N9","v":-0.035,"lat":83.5,"p":818.8},{"s":"N9","v":-0.035,"lat":88.5,"p":773.4},{"s":"N9","v":-0.035,"lat":90,"p":760.9},{"s":"N9","v":-0.035,"lat":90,"p":940.6},{"s":"N9","v":-0.035,"lat":81,"p":956},
{"s":"M1","v":-0.075,"lat":-23.5,"p":818.8},{"s":"M1","v":-0.075,"lat":-21,"p":818.8},{"s":"M1","v":-0.075,"lat":-21,"p":852.9},{"s":"M1","v":-0.075,"lat":-23.5,"p":852.9}
],
"cba":[{"k0":0,"k1":1,"v":-0.25},{"k0":1,"k1":2,"v":-0.15},{"k0":2,"k1":3,"v":-0.075},{"k0":3,"k1":4,"v":-0.035},{"k0":4,"k1":5,"v":-0.015},{"k0":5,"k1":6,"v":0},{"k0":6,"k1":7,"v":0.015},{"k0":7,"k1":8,"v":0.035},{"k0":8,"k1":9,"v":0.075},{"k0":9,"k1":10,"v":0.15},{"k0":10,"k1":11,"v":0.25}],
"cbb":[{"k0":0,"k1":1,"v":-0.4},{"k0":1,"k1":2,"v":-0.25},{"k0":2,"k1":3,"v":-0.15},{"k0":3,"k1":4,"v":-0.075},{"k0":4,"k1":5,"v":-0.035},{"k0":5,"k1":6,"v":0},{"k0":6,"k1":7,"v":0.035},{"k0":7,"k1":8,"v":0.075},{"k0":8,"k1":9,"v":0.15},{"k0":9,"k1":10,"v":0.25},{"k0":10,"k1":11,"v":0.4}],
"ta":[{"s":"L","v":-9,"k0":0,"y":0},{"s":"L","v":-9,"k0":-1.22,"y":0.5},{"s":"L","v":-9,"k0":0,"y":1},{"s":"R","v":9,"k0":11,"y":0},{"s":"R","v":9,"k0":11.72,"y":0.5},{"s":"R","v":9,"k0":11,"y":1}],
"tb":[{"s":"L","v":-9,"k0":0,"y":0},{"s":"L","v":-9,"k0":-1.03,"y":0.5},{"s":"L","v":-9,"k0":0,"y":1},{"s":"R","v":9,"k0":11,"y":0},{"s":"R","v":9,"k0":11.9,"y":0.5},{"s":"R","v":9,"k0":11,"y":1}]
},
"columns":2,
"bounds":"flush",
"spacing":{"row":38,"column":71},
"resolve":{"scale":{"fill":"independent"}},
"concat":[
{
 "width":361,"height":431,
 "title":{"text":"zonal HRRS [K/day] (TEST-CNTL)","subtitle":"Init:1992042600"},
 "data":{"name":"pa"},
 "encoding":{
  "x":{"field":"lat","type":"quantitative","scale":{"domain":[-90,90],"nice":false,"zero":false},"axis":{"values":[-90,-60,-30,0,30,60,90],"labelExpr":"datum.value == 0 ? 'EQ' : (abs(datum.value) + (datum.value < 0 ? 'S' : 'N'))","title":null,"grid":true}},
  "y":{"field":"p","type":"quantitative","scale":{"type":"log","domain":[30,1000],"reverse":true,"nice":false},"axis":{"values":[30,50,70,100,200,300,500,700,850,1000],"format":"d","grid":true,"title":"(a)","titleAngle":0,"titleAlign":"left","titleBaseline":"alphabetic","titleX":-49,"titleY":-23,"titleFont":"DejaVu Serif","titleFontSize":25,"titleFontWeight":"normal","titleColor":"#000"}},
  "detail":{"field":"s"},
  "order":{"value":null},
  "fill":{"field":"v","type":"quantitative","scale":{"type":"threshold","domain":[-0.3,-0.2,-0.1,-0.05,-0.02,-0.01,0.01,0.02,0.05,0.1,0.2,0.3],"range":["#1c1cf0","#3c3cf0","#6262f0","#8888f3","#ababf6","#d4d4fa","#ffffff","#fad2d2","#f5a6a6","#f08080","#eb5a5a","#e63232","#e60f0f"]},"legend":null},
  "strokeDash":{"condition":{"test":"datum.v < 0","value":[3,2]},"value":[1,0]}
 },
 "layer":[
  {"transform":[{"filter":"abs(datum.v) < 0.02"}],"mark":{"type":"line","interpolate":"cardinal-closed","tension":0.4,"stroke":"#2a2a2a","strokeWidth":1.3,"clip":true}},
  {"transform":[{"filter":"abs(datum.v) >= 0.02 && abs(datum.v) < 0.05"}],"mark":{"type":"line","interpolate":"cardinal-closed","tension":0.4,"stroke":"#2a2a2a","strokeWidth":1.3,"clip":true}},
  {"transform":[{"filter":"abs(datum.v) >= 0.05"}],"mark":{"type":"line","interpolate":"cardinal-closed","tension":0.4,"stroke":"#2a2a2a","strokeWidth":1.3,"clip":true}}
 ]
},
{
 "width":361,"height":431,
 "title":{"text":"zonal HRRL [K/day] (TEST-CNTL)","subtitle":"Init:1992042600"},
 "data":{"name":"pb"},
 "encoding":{
  "x":{"field":"lat","type":"quantitative","scale":{"domain":[-90,90],"nice":false,"zero":false},"axis":{"values":[-90,-60,-30,0,30,60,90],"labelExpr":"datum.value == 0 ? 'EQ' : (abs(datum.value) + (datum.value < 0 ? 'S' : 'N'))","title":null,"grid":true}},
  "y":{"field":"p","type":"quantitative","scale":{"type":"log","domain":[30,1000],"reverse":true,"nice":false},"axis":{"values":[30,50,70,100,200,300,500,700,850,1000],"format":"d","grid":true,"title":"(b)","titleAngle":0,"titleAlign":"left","titleBaseline":"alphabetic","titleX":-38,"titleY":-23,"titleFont":"DejaVu Serif","titleFontSize":25,"titleFontWeight":"normal","titleColor":"#000"}},
  "detail":{"field":"s"},
  "order":{"value":null},
  "fill":{"field":"v","type":"quantitative","scale":{"type":"threshold","domain":[-0.5,-0.3,-0.2,-0.1,-0.05,-0.02,0.02,0.05,0.1,0.2,0.3,0.5],"range":["#1c1cf0","#3c3cf0","#6262f0","#8888f3","#ababf6","#d4d4fa","#ffffff","#fad2d2","#f5a6a6","#f08080","#eb5a5a","#e63232","#e60f0f"]},"legend":null},
  "strokeDash":{"condition":{"test":"datum.v < 0","value":[3,2]},"value":[1,0]}
 },
 "layer":[
  {"transform":[{"filter":"abs(datum.v) < 0.05"}],"mark":{"type":"line","interpolate":"cardinal-closed","tension":0.4,"stroke":"#2a2a2a","strokeWidth":1.3,"clip":true}},
  {"transform":[{"filter":"abs(datum.v) >= 0.05 && abs(datum.v) < 0.1"}],"mark":{"type":"line","interpolate":"cardinal-closed","tension":0.4,"stroke":"#2a2a2a","strokeWidth":1.3,"clip":true}},
  {"transform":[{"filter":"abs(datum.v) >= 0.1"}],"mark":{"type":"line","interpolate":"cardinal-closed","tension":0.4,"stroke":"#2a2a2a","strokeWidth":1.3,"clip":true}}
 ]
},
{
 "width":361,"height":12,
 "view":{"stroke":null},
 "encoding":{
  "x":{"field":"k0","type":"quantitative","scale":{"domain":[0,11.317],"nice":false,"zero":false},"axis":{"values":[0,1,2,3,4,5,6,7,8,9,10,11],"labelExpr":"['-0.3','-0.2','-0.1','-0.05','-0.02','-0.01','0.01','0.02','0.05','0.1','0.2','0.3'][datum.value]","title":null,"grid":false,"ticks":false,"domain":false,"labelOverlap":false,"labelFlush":false,"labelFontSize":11.5,"labelColor":"#222","labelPadding":2}},
  "fill":{"field":"v","type":"quantitative","scale":{"type":"threshold","domain":[-0.3,-0.2,-0.1,-0.05,-0.02,-0.01,0.01,0.02,0.05,0.1,0.2,0.3],"range":["#1c1cf0","#3c3cf0","#6262f0","#8888f3","#ababf6","#d4d4fa","#ffffff","#fad2d2","#f5a6a6","#f08080","#eb5a5a","#e63232","#e60f0f"]},"legend":null}
 },
 "layer":[
  {"data":{"name":"cba"},"mark":{"type":"rect","stroke":"#333","strokeWidth":1},"encoding":{"x2":{"field":"k1"}}},
  {"data":{"name":"ta"},"mark":{"type":"line","interpolate":"linear-closed","stroke":"#444","strokeWidth":0.8},
   "encoding":{
    "y":{"field":"y","type":"quantitative","scale":{"domain":[0,1],"nice":false},"axis":null},
    "detail":{"field":"s"},
    "order":{"value":null}
   }}
 ]
},
{
 "width":361,"height":12,
 "view":{"stroke":null},
 "encoding":{
  "x":{"field":"k0","type":"quantitative","scale":{"domain":[0,11.317],"nice":false,"zero":false},"axis":{"values":[0,1,2,3,4,5,6,7,8,9,10,11],"labelExpr":"['-0.5','-0.3','-0.2','-0.1','-0.05','-0.02','0.02','0.05','0.1','0.2','0.3','0.5'][datum.value]","title":null,"grid":false,"ticks":false,"domain":false,"labelOverlap":false,"labelFlush":false,"labelFontSize":11.5,"labelColor":"#222","labelPadding":2}},
  "fill":{"field":"v","type":"quantitative","scale":{"type":"threshold","domain":[-0.5,-0.3,-0.2,-0.1,-0.05,-0.02,0.02,0.05,0.1,0.2,0.3,0.5],"range":["#1c1cf0","#3c3cf0","#6262f0","#8888f3","#ababf6","#d4d4fa","#ffffff","#fad2d2","#f5a6a6","#f08080","#eb5a5a","#e63232","#e60f0f"]},"legend":null}
 },
 "layer":[
  {"data":{"name":"cbb"},"mark":{"type":"rect","stroke":"#333","strokeWidth":1},"encoding":{"x2":{"field":"k1"}}},
  {"data":{"name":"tb"},"mark":{"type":"line","interpolate":"linear-closed","stroke":"#444","strokeWidth":0.8},
   "encoding":{
    "y":{"field":"y","type":"quantitative","scale":{"domain":[0,1],"nice":false},"axis":null},
    "detail":{"field":"s"},
    "order":{"value":null}
   }}
 ]
}
]
}
